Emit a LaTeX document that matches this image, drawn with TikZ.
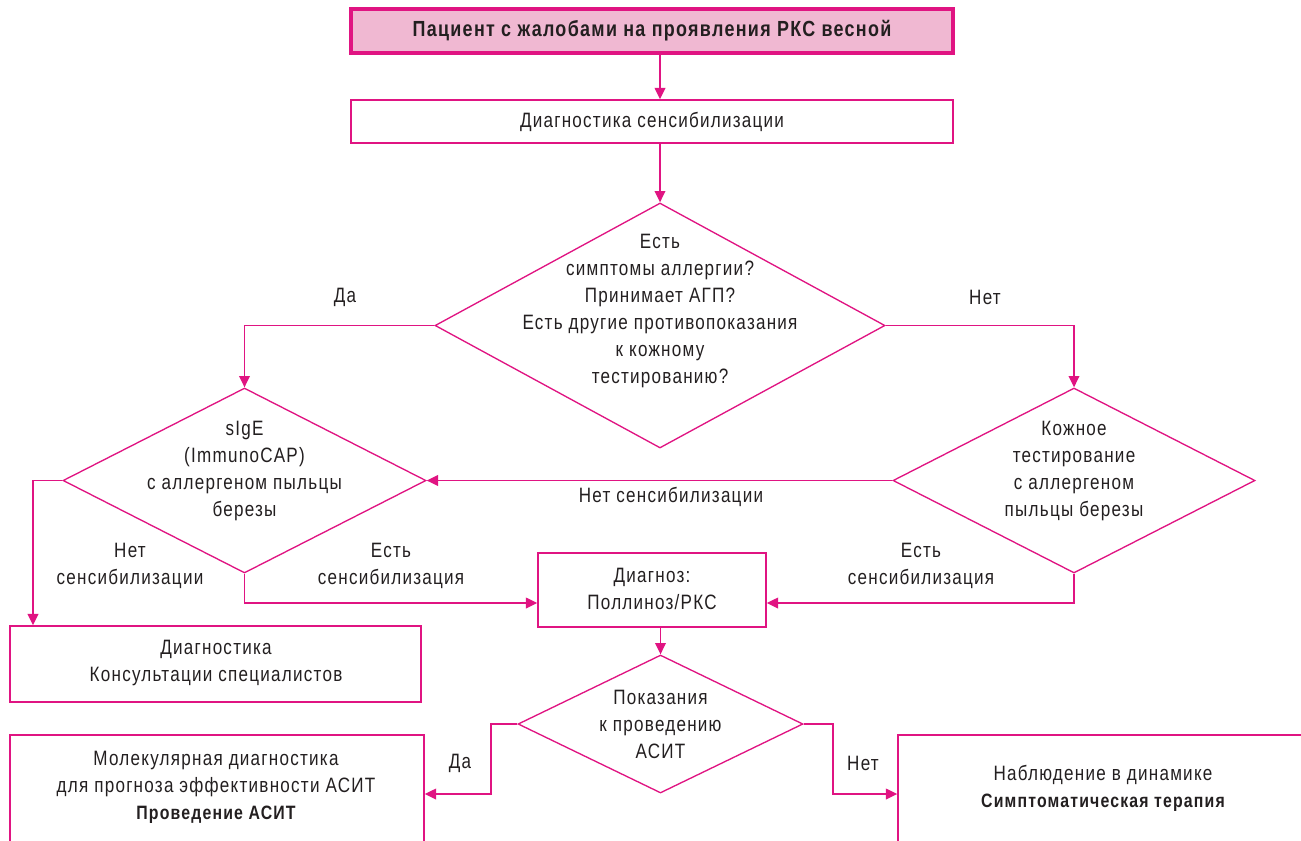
\documentclass[tikz,border=0pt]{standalone}
\usepackage{fontspec}
\setmainfont{Liberation Sans}[FakeStretch=0.82,LetterSpace=6]
\usetikzlibrary{shapes.geometric,arrows.meta}
\definecolor{mag}{RGB}{224,20,130}
\definecolor{pinkfill}{RGB}{240,184,210}
\definecolor{ink}{RGB}{35,31,32}
\newcommand{\bsmall}[1]{{\fontsize{14.5pt}{20.25pt}\selectfont\bfseries #1}}
\tikzset{
  line/.style={draw=mag,line width=1.1pt},
  arr/.style={line,-{Triangle[length=8.5pt,width=8pt]}},
  boxn/.style={draw=mag,line width=1.1pt,rectangle,inner sep=0pt,fill=white},
  topbox/.style={draw=mag,line width=2.6pt,rectangle,inner sep=0pt,fill=pinkfill},
  dia/.style={draw=mag,line width=1pt,diamond,inner sep=0pt,fill=white},
  txt/.style={text=ink,font=\fontsize{15.6pt}{20.25pt}\selectfont,align=center,inner sep=0pt},
  btxt/.style={txt,font=\fontsize{16.4pt}{20.25pt}\selectfont\bfseries},
}
\begin{document}
\begin{tikzpicture}[x=0.75pt,y=-0.75pt]
\useasboundingbox (0,0) rectangle (1301,840);
\clip (0,0) rectangle (1301,840);
% boxes
\node[topbox,minimum width=602*0.75pt,minimum height=44*0.75pt] (top) at (652,31) {};
\node[btxt] at (top) {Пациент с жалобами на проявления РКС весной};
\node[boxn,minimum width=602*0.75pt,minimum height=43*0.75pt] (sens) at (652,121.5) {};
\node[txt] at (sens) {Диагностика сенсибилизации};
% diamonds
\node[dia,minimum width=450*0.75pt,minimum height=245*0.75pt] (d1) at (660,325.5) {};
\node[txt] at (660,311) {Есть\\симптомы аллергии?\\Принимает АГП?\\Есть другие противопоказания\\к кожному\\тестированию?};
\node[dia,minimum width=363*0.75pt,minimum height=185*0.75pt] (d2) at (244.5,480.5) {};
\node[txt] at (244.5,471) {sIgE\\(ImmunoCAP)\\с аллергеном пыльцы\\березы};
\node[dia,minimum width=362*0.75pt,minimum height=185*0.75pt] (d3) at (1074,480.5) {};
\node[txt] at (1074,471) {Кожное\\тестирование\\с аллергеном\\пыльцы березы};
\node[boxn,minimum width=228*0.75pt,minimum height=74*0.75pt] (diag) at (652,590) {};
\node[txt] at (652,589) {Диагноз:\\Поллиноз/РКС};
\node[boxn,minimum width=411*0.75pt,minimum height=76*0.75pt] (cons) at (215.5,664) {};
\node[txt] at (216,663) {Диагностика\\Консультации специалистов};
\node[dia,minimum width=285*0.75pt,minimum height=138*0.75pt] (d4) at (660.5,724) {};
\node[txt] at (660.5,724) {Показания\\к проведению\\АСИТ};
\node[boxn,minimum width=414*0.75pt,minimum height=120*0.75pt] (mol) at (217,795) {};
\node[txt] at (216,787) {Молекулярная диагностика\\для прогноза эффективности АСИТ\\\bsmall{Проведение АСИТ}};
\node[boxn,minimum width=412*0.75pt,minimum height=120*0.75pt] (obs) at (1104,795) {};
\node[txt] at (1103,788) {Наблюдение в динамике\\\bsmall{Симптоматическая терапия}};
% bend coordinates
\coordinate (c1) at (33,480.5);
\coordinate (c2) at (491,724);
\coordinate (c3) at (833,724);
\coordinate (y603) at (0,603);
\coordinate (y794) at (0,794);
% connectors
\draw[arr] (top.south -| d1.north) -- (sens.north -| d1.north);
\draw[arr] (sens.south -| d1.north) -- (d1.north);
\draw[arr] (d1.west) -| (d2.north);
\draw[arr] (d1.east) -| (d3.north);
\draw[arr] (d3.west) -- (d2.east);
\draw[arr] (d2.west) -- (c1) -- (c1 |- cons.north);
\draw[arr] (d2.south) |- (diag.west |- y603);
\draw[arr] (d3.south) |- (diag.east |- y603);
\draw[arr] (diag.south -| d4.north) -- (d4.north);
\draw[arr] (d4.west) -- (c2) |- (mol.east |- y794);
\draw[arr] (d4.east) -- (c3) |- (obs.west |- y794);
% labels
\node[txt] (lda) at (345,297) {Да};
\node[txt] (lnet) at (985,297) {Нет};
\node[txt] (lns) at (671,497) {Нет сенсибилизации};
\node[txt] (lns2) at (130,566) {Нет\\сенсибилизации};
\node[txt] (les1) at (391,566) {Есть\\сенсибилизация};
\node[txt] (les2) at (921,566) {Есть\\сенсибилизация};
\node[txt] (lda2) at (460,763) {Да};
\node[txt] (lnet2) at (863,763) {Нет};
\end{tikzpicture}
\end{document}
